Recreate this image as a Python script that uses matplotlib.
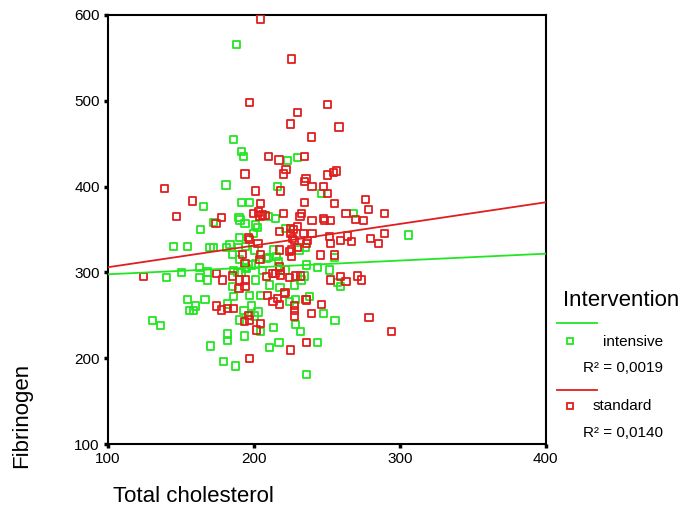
import matplotlib
matplotlib.use("Agg")
import matplotlib.pyplot as plt
from matplotlib.lines import Line2D
import numpy as np

plt.rcParams['font.family'] = ['Liberation Sans', 'DejaVu Sans']

# ---- data ----
intensive_x = [188, 185.9, 191.8, 192.7, 222.9, 229.7, 180.9, 216, 246.5, 165.6, 191.8, 196.8,
               209.9, 214.9, 268.1, 172.2, 189.8, 190.5, 193.9, 200.8, 202.3, 163.5, 199.6, 221.5, 306.1, 190,
               145.2, 154.6, 169.9, 172.4, 181.4, 183.6, 189.6, 194.4, 200.3, 213.3, 230.9, 235.5,
               185.5, 209.9, 215.6, 255.4, 198.5, 200.8, 236.2, 243.5, 162.6, 150.5, 168.1, 185.9, 189.1, 191.6, 194.4, 205.8, 221.3, 251.9,
               140, 162.4, 200.8, 234.8, 257.4, 259.5, 185.2, 211, 217.9, 227.7,
               185.9, 197.1, 204.6, 228.2, 238, 154.6, 166.5,
               160.1, 155.7, 158.7, 182, 193.2, 198.5, 202.8, 200.1, 190, 204.6, 213.3, 130.4, 136.1, 182, 182, 193.7,
               170.4, 179, 187.7, 211, 217.2, 243.5, 235.9, 224.7, 247.6, 228.2, 231.8, 255.6,
               208.8, 190, 195.1, 168.5, 216.7, 232.3]
intensive_y = [566, 454.7, 441, 434.8, 430.2, 433.7, 401.9, 399.9, 392.2, 376.6, 381.7, 381.7,
               364.9, 363, 368.9, 358.4, 363.8, 361.1, 357.2, 355.2, 352.1, 350.2, 345.6, 351.4, 343.6, 340.4,
               330, 330, 328.8, 328.8, 329.3, 332, 328.8, 330, 326.1, 326.1, 326.1, 328.8,
               321.1, 317.6, 318.4, 317.6, 308.6, 309.8, 308.6, 305.9, 305.9, 300.1, 300.5, 302, 299.7, 299.7, 305.5, 302, 302.8, 302.8,
               293.8, 294.3, 291.1, 295.8, 288.5, 284.1, 284.1, 285.3, 282.6, 285.3,
               271.7, 272.8, 272.8, 268.6, 271.7, 268.6, 268.6,
               260.8, 255.4, 255.4, 263.2, 255.4, 260.8, 253.8, 249.2, 244.5, 230.9, 236, 244.2, 237.9, 228.2, 220.4, 225.9,
               214.2, 195.9, 190.9, 212.7, 218.1, 218.1, 181.2, 265.9, 252.3, 239.5, 230.9, 244.2,
               316.4, 314.5, 304.8, 291.1, 312.5, 291.1]

standard_x = [204.4, 225.9, 196.9, 250.3, 230, 225, 258.3, 239.6, 210.3, 217.2, 234.8,
              193.9, 220.2, 222, 235.7, 234.8, 250.3, 254.4, 256.7, 139, 218.1, 201.4, 239.8, 247.6, 250.6, 157.8, 204.6, 234.8, 255.4, 276.6, 278.7,
              146.8, 199.6, 203.3, 204.2, 205.8, 207.6, 220, 232.5, 231.6, 239.8, 247.6, 248.3, 252.4, 263.1, 269.9, 274.9, 289.4, 178.1, 174,
              217.4, 225.2, 227, 230, 225.4, 233.9, 239.8, 226.3, 227.7, 236.6, 236.2, 251.7, 252.2, 259.2, 264, 267, 279.8, 285.5, 289.4, 196.6, 196.7, 202.8,
              217.4, 225.9, 229.7, 224.7, 192.1, 204.4, 204.2, 225.9, 245.5, 255.4, 193.9, 217.4, 174.2, 214.5, 217.9, 218.4,
              124.2, 178.3, 185.2, 190.3, 194.1, 208.8, 212.9, 224.7, 228.2, 232.1, 252.2, 259.2, 263.1, 271.1, 273.9, 189.8, 193.9, 221.3, 209.5, 235.7,
              174.2, 178.1, 182, 186.2, 196.6, 197.1, 193.7, 204.6, 201.6, 196.8, 225, 235.9, 213.1, 216.3, 217.4, 221.1, 227.9, 227.9, 227.9, 235.9, 239.6, 246.5, 278.9, 294.4]
standard_y = [595.3, 548.7, 497.8, 495.9, 486, 473, 469.5, 457.8, 434.8, 431, 434.8,
              414.7, 414.7, 420.2, 409.7, 405.7, 413.5, 416.6, 418.2, 398, 394.9, 394.9, 399.9, 399.9, 392.2, 383.2, 380.5, 381.7, 380.5, 385.2, 373.5,
              364.9, 368.9, 370.4, 365.7, 366.9, 366, 368.9, 368.9, 364.9, 360.3, 363, 360.3, 360.3, 368.9, 361.9, 360.3, 368.9, 363.8, 357.2,
              347.5, 351.4, 350.2, 353.3, 345.6, 345.6, 345.6, 339.7, 337, 337, 333.9, 341.6, 333.5, 337, 342.4, 335.8, 339.7, 333.9, 345.6, 340.9, 338, 333.9,
              326.1, 326.1, 328.8, 324.1, 321.1, 321.1, 315.3, 318.4, 320.3, 320.3, 310.6, 306.6, 299, 299, 302.8, 297,
              295, 291.1, 295.8, 291.1, 291.1, 295, 299, 294.3, 295.8, 295.8, 291.1, 295, 289.2, 295.8, 291.1, 281.5, 283.4, 276.3, 272.8, 268.6,
              260.8, 256.2, 257.7, 257.7, 250.3, 244.5, 242.5, 240.7, 232.9, 199.4, 209.6, 218.1, 265.9, 269.8, 262.4, 275.6, 261.2, 255.4, 249.2, 267.8, 252.3, 262.4, 247.7, 230.9]

# fit lines: intercept, slope
intensive_fit = [289.8, 0.080]
standard_fit = [280.8, 0.2523]
r2_labels = ["R\u00b2 = 0,0019", "R\u00b2 = 0,0140"]
group_labels = ["intensive", "standard"]
x_ticks = [100, 200, 300, 400]
y_ticks = [100, 200, 300, 400, 500, 600]

green = "#22e622"
red = "#e01e1e"

fig = plt.figure(figsize=(6.85, 5.18), dpi=100)
ax = fig.add_axes([108/685, 1-444/518, (545.7-108)/685, (444-15)/518])

ax.scatter(intensive_x, intensive_y, marker='s', s=26, facecolors='none',
           edgecolors=green, linewidths=1.3, zorder=3)
ax.scatter(standard_x, standard_y, marker='s', s=26, facecolors='none',
           edgecolors=red, linewidths=1.3, zorder=3)

xs = np.array([100, 400])
ax.plot(xs, intensive_fit[0] + intensive_fit[1]*xs, color=green, lw=1.3, zorder=4)
ax.plot(xs, standard_fit[0] + standard_fit[1]*xs, color=red, lw=1.3, zorder=4)

ax.set_xlim(100, 400)
ax.set_ylim(100, 600)
ax.set_xticks(x_ticks)
ax.set_yticks(y_ticks)
ax.tick_params(direction='out', length=3, width=2.5, labelsize=11, pad=3, color='black')
for s in ax.spines.values():
    s.set_linewidth(1.5)
    s.set_color('black')

fig.text(113/685, 1-497/518, "Total cholesterol", fontsize=16, ha='left', va='center')
fig.text(22/685, 1-415/518, "Fibrinogen", fontsize=16, ha='center', va='center', rotation=90)

# legend
fig.text(563/685, 1-300/518, "Intervention", fontsize=16, ha='left', va='center')
fig.add_artist(Line2D([557/685, 597/685], [1-323/518, 1-323/518], color=green, lw=1.3))
fig.add_artist(Line2D([570/685], [1-341/518], marker='s', markersize=5, markerfacecolor='none',
                      markeredgecolor=green, markeredgewidth=1.3, linestyle='none'))
fig.text(603/685, 1-342/518, group_labels[0], fontsize=11, ha='left', va='center')
fig.text(583/685, 1-368/518, r2_labels[0], fontsize=11, ha='left', va='center')
fig.add_artist(Line2D([557/685, 597/685], [1-390/518, 1-390/518], color=red, lw=1.3))
fig.add_artist(Line2D([570/685], [1-406/518], marker='s', markersize=5, markerfacecolor='none',
                      markeredgecolor=red, markeredgewidth=1.3, linestyle='none'))
fig.text(593/685, 1-406/518, group_labels[1], fontsize=11, ha='left', va='center')
fig.text(583/685, 1-433/518, r2_labels[1], fontsize=11, ha='left', va='center')

fig.savefig("out.png", dpi=100)
